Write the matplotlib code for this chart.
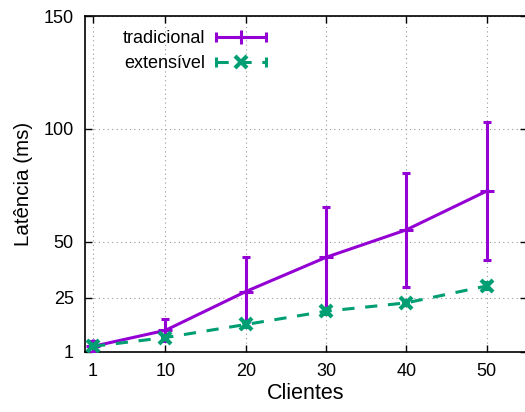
import numpy as np
import matplotlib.pyplot as plt
from matplotlib.legend_handler import HandlerBase
from matplotlib.lines import Line2D
from matplotlib.container import ErrorbarContainer

plt.rcParams['font.family'] = ['Liberation Sans', 'DejaVu Sans']

# dados
clientes = [1, 10, 20, 30, 40, 50]
trad = [3.5, 10.6, 27.8, 43, 55.2, 72.4]
trad_min = [1, 6, 14.5, 19.5, 30, 42]
trad_max = [6, 15.7, 43, 65.3, 80.5, 103]
ext = [3.5, 7.4, 13.2, 19.1, 22.8, 30.3]
ext_min = [2.8, 6.6, 12.2, 18.0, 21.8, 29.0]
ext_max = [4.2, 8.2, 14.2, 20.2, 23.8, 31.6]
yticks = [1, 25, 50, 100, 150]

roxo = '#9400d3'
verde = '#009e73'


# legenda no estilo do gnuplot: |--+--|
class HandlerGnuplot(HandlerBase):
    def create_artists(self, legend, orig_handle, xdescent, ydescent,
                       width, height, fontsize, trans):
        ln = orig_handle[0]
        y = height / 2 - ydescent
        x0, x1 = -xdescent, width - xdescent
        linha = Line2D([x0, x1], [y, y])
        linha.update_from(ln)
        linha.set_marker('None')
        caps = Line2D([x0, x1], [y, y], ls='none', marker='|', ms=7,
                      mew=2.2, color=ln.get_color())
        meio = Line2D([(x0 + x1) / 2], [y], ls='none',
                      marker=ln.get_marker(), ms=ln.get_markersize(),
                      mew=ln.get_markeredgewidth(), color=ln.get_color())
        for a in (linha, caps, meio):
            a.set_transform(trans)
        return [linha, caps, meio]


fig = plt.figure(figsize=(5.25, 4.12), dpi=100)
ax = fig.add_axes([85 / 525, 60 / 412, 442 / 525, 336 / 412])

t = np.array(trad)
e = np.array(ext)
ax.errorbar(clientes, trad,
            yerr=[t - np.array(trad_min), np.array(trad_max) - t],
            color=roxo, lw=2.2, marker='+', ms=10, mew=2.2,
            elinewidth=2.2, capsize=2.8, capthick=2.2, label='tradicional',
            zorder=3)
ax.errorbar(clientes, ext,
            yerr=[e - np.array(ext_min), np.array(ext_max) - e],
            color=verde, lw=2.2, ls=(0, (4, 3.5)), marker='x', ms=9, mew=3,
            elinewidth=2.2, capsize=2.8, capthick=2.2, label='extensível',
            zorder=4)

ax.set_xlim(0, 55)
ax.set_ylim(1, 150)
ax.set_xticks(clientes)
ax.set_yticks(yticks)
ax.tick_params(direction='in', length=5, width=1, labelsize=13,
               top=True, right=True, pad=8)
ax.grid(True, ls=(0, (1, 3)), color='#999999', lw=0.8)
for s in ax.spines.values():
    s.set_linewidth(1.2)

ax.set_xlabel('Clientes', fontsize=15.5, labelpad=2)
ax.set_ylabel('Latência (ms)', fontsize=14.8, labelpad=8)

ax.legend(loc='upper left', markerfirst=False, frameon=False, fontsize=13,
          handlelength=2.8, handletextpad=0.6, borderaxespad=0.2,
          labelspacing=0.45, bbox_to_anchor=(0.06, 0.99),
          handler_map={ErrorbarContainer: HandlerGnuplot()})

fig.savefig('out.png', dpi=100)
